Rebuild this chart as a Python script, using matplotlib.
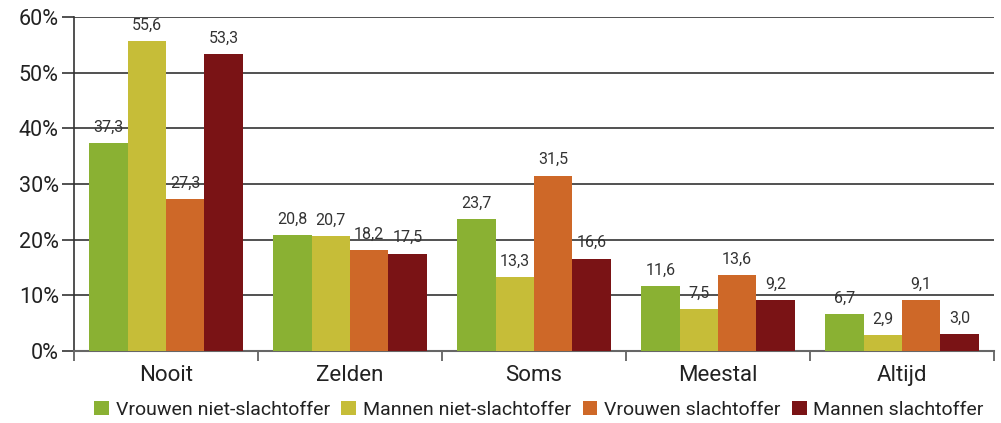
import matplotlib
matplotlib.use("Agg")
import matplotlib.pyplot as plt
import numpy as np
from matplotlib.ticker import FixedLocator

categories = ["Nooit", "Zelden", "Soms", "Meestal", "Altijd"]
series_names = ["Vrouwen niet-slachtoffer", "Mannen niet-slachtoffer",
                "Vrouwen slachtoffer", "Mannen slachtoffer"]
vrouwen_niet = [37.3, 20.8, 23.7, 11.6, 6.7]
mannen_niet = [55.6, 20.7, 13.3, 7.5, 2.9]
vrouwen_sl = [27.3, 18.2, 31.5, 13.6, 9.1]
mannen_sl = [53.3, 17.5, 16.6, 9.2, 3.0]
yticks = [0, 10, 20, 30, 40, 50, 60]
colors = ["#8AB133", "#C6BD38", "#CE6828", "#7A1315"]

plt.rcParams['font.family'] = ['Roboto', 'DejaVu Sans']
fig = plt.figure(figsize=(10.01, 4.23), dpi=100)
ax = fig.add_axes([74/1001, 1-351/423, (994-74)/1001, (351-17)/423])

data = [vrouwen_niet, mannen_niet, vrouwen_sl, mannen_sl]
x = np.arange(len(categories))
w = 0.208
for i, (vals, c, name) in enumerate(zip(data, colors, series_names)):
    pos = x + (i - 1.5) * w
    bars = ax.bar(pos, vals, width=w, color=c, label=name, zorder=3)
    for b, v in zip(bars, vals):
        ax.annotate(f"{v:.1f}".replace(".", ","), (b.get_x() + b.get_width()/2, v),
                    xytext=(0, 6), textcoords="offset points", ha="center", va="bottom",
                    fontsize=11.5, color="#333333")

ax.set_xlim(-0.5, len(categories) - 0.5)
ax.set_ylim(0, 60)
ax.set_yticks(yticks)
ax.set_yticklabels([f"{t}%" for t in yticks], fontsize=15.5, color="#222222")
ax.yaxis.grid(True, color="#333333", linewidth=1.2, zorder=0)
ax.set_xticks(x)
ax.set_xticklabels(categories, fontsize=16, color="#222222")
ax.tick_params(axis='x', length=0, pad=10)
ax.xaxis.set_minor_locator(FixedLocator(np.arange(-0.5, len(categories), 1.0)))
ax.tick_params(axis='x', which='minor', length=7, width=1.2, color="#555555")
ax.tick_params(axis='y', length=9, width=1.2, color="#333333", pad=2)
for s in ["top", "right"]:
    ax.spines[s].set_visible(False)
ax.spines["left"].set_color("#333333")
ax.spines["left"].set_linewidth(1.2)
ax.spines["bottom"].set_color("#666666")
ax.spines["bottom"].set_linewidth(1.5)

leg = fig.legend(loc="center", bbox_to_anchor=(539/1001, 1-410/423), ncol=4,
                 frameon=False, fontsize=14, handlelength=0.75, handleheight=0.75,
                 handletextpad=0.35, columnspacing=0.6, borderpad=0)
for t in leg.get_texts():
    t.set_color("#222222")

fig.savefig("out.png", dpi=100)
